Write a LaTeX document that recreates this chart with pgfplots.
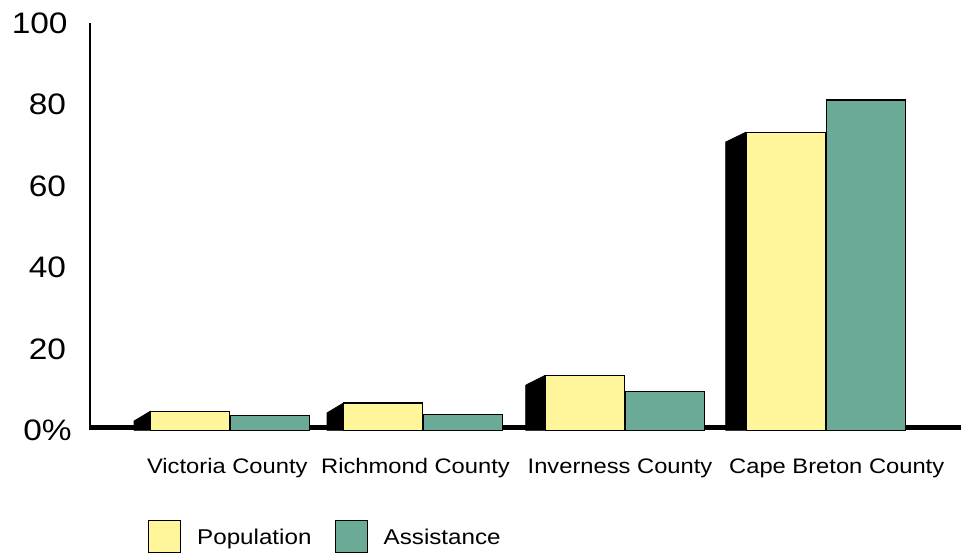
\documentclass[border=0pt]{standalone}
\usepackage{pgfplots}
\usepackage{pgfplotstable}
\pgfplotsset{compat=1.18}
\usepackage{fontspec}
\setmainfont{Liberation Sans}[FakeStretch=1.13]
\definecolor{popyellow}{RGB}{255,245,155}
\definecolor{assistgreen}{RGB}{106,170,150}
\pgfplotsset{boxlegend/.style={legend image code/.code={\draw[##1] (0pt,-8pt) rectangle (16pt,8pt);}}}
\pgfplotstableread{
x pop assist
230.3 4.7 3.6
423.3 6.7 3.9
625.0 13.5 9.5
825.8 73.2 81.1
}\data
\begin{document}
\begin{tikzpicture}
\begin{axis}[
  x=0.5pt, y=2.0365pt,
  xmin=90, xmax=961, ymin=0, ymax=100,
  clip=false,
  axis lines*=left,
  axis line style={-},
  x axis line style={draw=none},
  y axis line style={line width=1.4pt},
  major tick length=0pt,
  /pgf/number format/assume math mode=true,
  ytick={0,20,40,60,80,100},
  yticklabels={0\%,20,40,60,80,\hspace*{-7.8pt}100},
  yticklabel style={anchor=center, xshift=-21.25pt, font=\fontsize{14.8}{17}\selectfont},
  xtick={227.3,415.5,620,836.7},
  xticklabels={Victoria County,Richmond County,Inverness County,Cape Breton County},
  xticklabel style={anchor=base, yshift=-21.5pt, inner sep=0pt, font=\fontsize{10.5}{12}\selectfont},
  legend columns=2,
  legend style={at={(0.0666,-0.2202)}, anchor=north west, draw=none, fill=none,
    inner sep=0pt, outer sep=0pt, nodes={inner sep=0pt, text depth=0pt},
    font=\fontsize{10.7}{13}\selectfont,
    /tikz/every odd column/.append style={column sep=8pt},
    /tikz/every even column/.append style={column sep=11.5pt}},
]
% baseline
\addplot[black, line width=2.5pt, forget plot] coordinates {(90,0.69) (961,0.69)};
% 3D side faces of the population bars
\addplot[fill=black, draw=black, line width=0.3pt, forget plot] coordinates {(134,2.3) (150.3,4.7)} \closedcycle;
\addplot[fill=black, draw=black, line width=0.3pt, forget plot] coordinates {(327,4.3) (343.3,6.7)} \closedcycle;
\addplot[fill=black, draw=black, line width=0.3pt, forget plot] coordinates {(525.7,11.1) (545,13.5)} \closedcycle;
\addplot[fill=black, draw=black, line width=0.3pt, forget plot] coordinates {(725.7,70.8) (745.8,73.2)} \closedcycle;
% bars
\addplot[ybar, bar width=79, bar shift=-40, fill=popyellow, draw=black, line width=0.6pt, boxlegend]
  table[x=x, y=pop] {\data};
\addlegendentry{Population}
\addplot[ybar, bar width=79, bar shift=40, fill=assistgreen, draw=black, line width=0.6pt, boxlegend]
  table[x=x, y=assist] {\data};
\addlegendentry{Assistance}
\coordinate (BL) at (axis cs:0,-29.88);
\coordinate (TR) at (axis cs:961,105.65);
\end{axis}
\pgfresetboundingbox
\useasboundingbox (BL) rectangle (TR);
\end{tikzpicture}
\end{document}
